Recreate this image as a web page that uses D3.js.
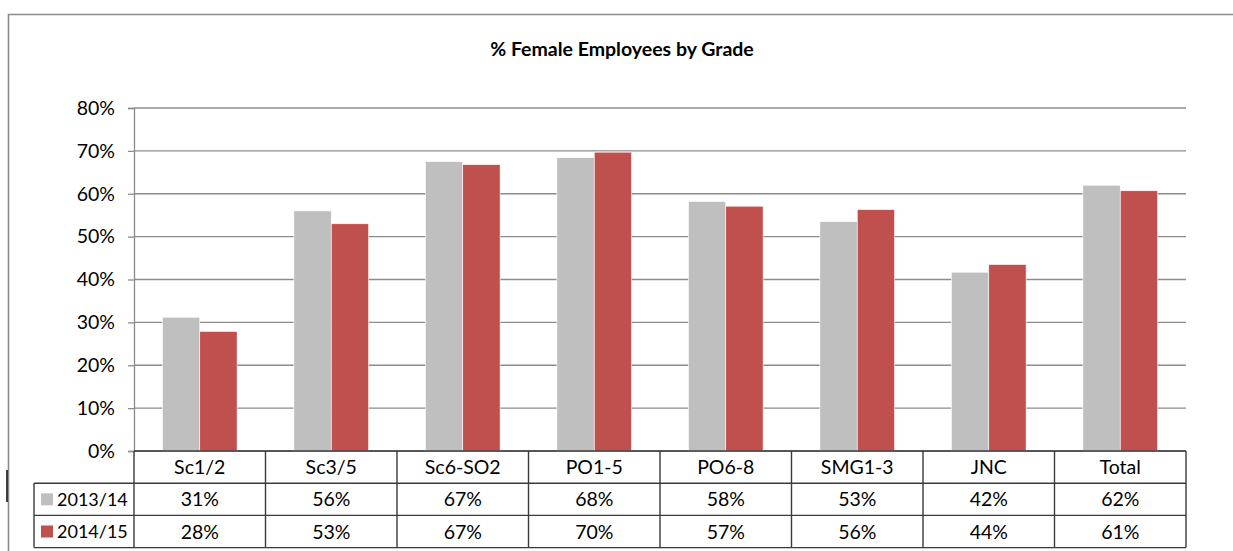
<!DOCTYPE html>
<meta charset="utf-8">
<style>
	body { margin: 0; background: #fff; }
	svg text { font-family: Lato, "Open Sans", sans-serif; fill: #000; }
	.grid line { stroke: #8c8c8c; stroke-width: 1.3; }
	.tbl line { stroke: #3a3a3a; stroke-width: 1.4; }
</style>
<script src="https://d3js.org/d3.v7.min.js"></script>
<svg id="chart" width="1233" height="551"></svg>
<script>

	var categories = ["Sc1/2", "Sc3/5", "Sc6-SO2", "PO1-5", "PO6-8", "SMG1-3", "JNC", "Total"];
	var series = ["2013/14", "2014/15"];
	var colors = ["#bfbfbf", "#c0504d"];
	var values2013 = [31.2, 56.0, 67.5, 68.4, 58.2, 53.5, 41.7, 62.0];
	var values2014 = [27.9, 53.0, 66.8, 69.7, 57.1, 56.3, 43.5, 60.7];
	var tableLabels2013 = ["31%", "56%", "67%", "68%", "58%", "53%", "42%", "62%"];
	var tableLabels2014 = ["28%", "53%", "67%", "70%", "57%", "56%", "44%", "61%"];
	var yTicks = [0, 10, 20, 30, 40, 50, 60, 70, 80];

	var plotLeft = 134, plotRight = 1186, plotTop = 108, plotBottom = 451;
	var rowH = 32.2;

	var svg = d3.select("#chart");

	// outer chart frame
	svg.append("path")
		.attr("d", "M8.5,551V14.5H1233")
		.attr("fill", "none")
		.attr("stroke", "#8c8c8c")
		.attr("stroke-width", 1.6);

	// the little black mark on the left edge
	svg.append("line")
		.attr("x1", 7).attr("x2", 7).attr("y1", 470).attr("y2", 502)
		.attr("stroke", "#000").attr("stroke-width", 1.5);

	svg.append("text")
		.attr("x", 622).attr("y", 56)
		.attr("text-anchor", "middle")
		.style("font-size", "19.5px")
		.style("font-weight", "bold")
		.text("% Female Employees by Grade");

	var y = d3.scaleLinear().domain([0, 80]).range([plotBottom, plotTop]);
	var x0 = d3.scaleBand().domain(categories).range([plotLeft, plotRight]);
	var x1 = d3.scaleBand().domain(series).range([0, x0.bandwidth()]).paddingOuter(0.76);

	// gridlines
	svg.append("g").attr("class", "grid")
		.selectAll("line").data(yTicks).enter().append("line")
		.attr("x1", plotLeft).attr("x2", plotRight)
		.attr("y1", function(d) { return y(d); })
		.attr("y2", function(d) { return y(d); });

	var yAxis = svg.append("g")
		.attr("transform", "translate(" + plotLeft + ",0)")
		.call(d3.axisLeft(y).tickValues(yTicks).tickSize(6).tickPadding(13)
			.tickFormat(function(d) { return d + "%"; }));
	yAxis.select(".domain").attr("stroke", "#8c8c8c").attr("stroke-width", 1.3);
	yAxis.selectAll(".tick line").attr("stroke", "#8c8c8c").attr("stroke-width", 1.3);
	yAxis.selectAll(".tick text")
		.style("font-size", "19.5px")
		.style("font-family", "Lato, sans-serif")
		.attr("fill", "#000");

	// bars
	var allValues = [values2013, values2014];
	var groups = svg.append("g").selectAll("g").data(categories).enter().append("g")
		.attr("transform", function(d) { return "translate(" + x0(d) + ",0)"; });

	groups.selectAll("rect")
		.data(function(d, i) { return series.map(function(s, j) { return {s: s, j: j, v: allValues[j][i]}; }); })
		.enter().append("rect")
		.attr("x", function(d) { return x1(d.s); })
		.attr("width", x1.bandwidth())
		.attr("y", function(d) { return y(d.v); })
		.attr("height", function(d) { return y(0) - y(d.v); })
		.attr("fill", function(d) { return colors[d.j]; })
		.attr("stroke", "#fff")
		.attr("stroke-width", 0.6);

	// data table
	var tbl = svg.append("g").attr("class", "tbl");
	var tLeft = 34;
	var rowsY = [plotBottom, plotBottom + rowH, plotBottom + 2 * rowH, plotBottom + 3 * rowH];

	tbl.append("line").attr("x1", plotLeft).attr("x2", plotRight).attr("y1", rowsY[0]).attr("y2", rowsY[0]);
	tbl.selectAll(".hl").data(rowsY.slice(1)).enter().append("line")
		.attr("x1", tLeft).attr("x2", plotRight)
		.attr("y1", function(d) { return d; }).attr("y2", function(d) { return d; });
	tbl.append("line").attr("x1", tLeft).attr("x2", tLeft).attr("y1", rowsY[1]).attr("y2", rowsY[3]);
	tbl.selectAll(".vl").data(categories).enter().append("line")
		.attr("x1", function(d) { return x0(d); }).attr("x2", function(d) { return x0(d); })
		.attr("y1", rowsY[0]).attr("y2", rowsY[3]);
	tbl.append("line").attr("x1", plotRight).attr("x2", plotRight).attr("y1", rowsY[0]).attr("y2", rowsY[3]);

	function cellText(labels, rowTop) {
		tbl.selectAll(null).data(labels).enter().append("text")
			.attr("x", function(d, i) { return x0(categories[i]) + x0.bandwidth() / 2; })
			.attr("y", rowTop + rowH / 2)
			.attr("dy", "0.36em")
			.attr("text-anchor", "middle")
			.style("font-size", "19.5px")
			.text(function(d) { return d; });
	}
	cellText(categories, rowsY[0]);
	cellText(tableLabels2013, rowsY[1]);
	cellText(tableLabels2014, rowsY[2]);

	// legend keys in the table
	series.forEach(function(s, j) {
		var cy = rowsY[j + 1] + rowH / 2;
		tbl.append("rect")
			.attr("x", 41).attr("y", cy - 6).attr("width", 12).attr("height", 12)
			.attr("fill", colors[j]);
		tbl.append("text")
			.attr("x", 57).attr("y", cy).attr("dy", "0.36em")
			.style("font-size", "18px")
			.text(s);
	});

</script>
